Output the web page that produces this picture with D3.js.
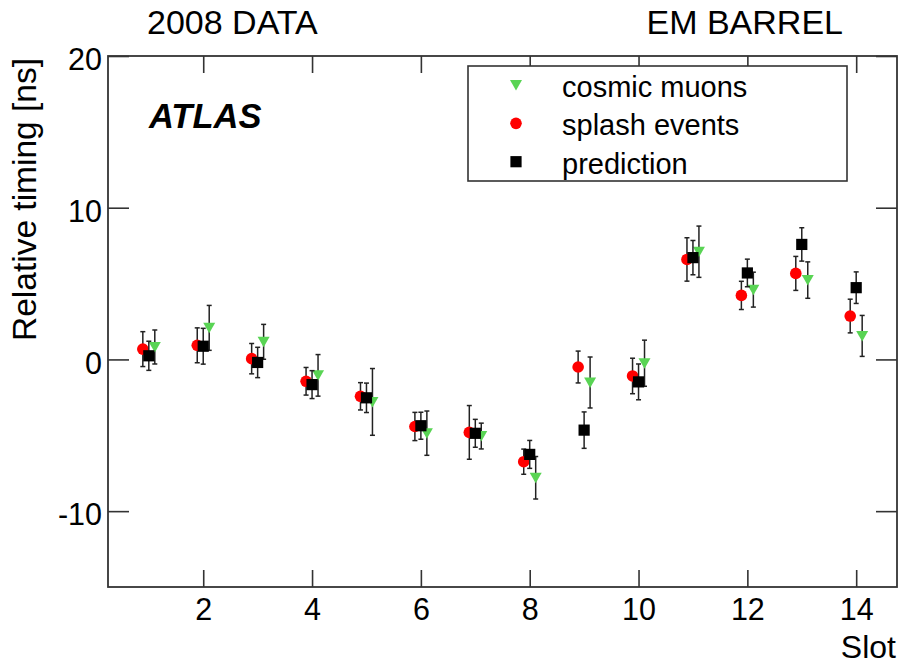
<!DOCTYPE html>
<html>
<head>
<meta charset="utf-8">
<script src="https://cdn.jsdelivr.net/npm/d3@7"></script>
<style>
  html, body { margin: 0; padding: 0; background: #ffffff; }
  svg { display: block; font-family: "Liberation Sans", Arial, Helvetica, sans-serif; }
</style>
</head>
<body>
<svg id="chart" width="899" height="664"></svg>
<script>
// Calorimeter slot timing: cosmic muons, beam splash events and prediction
const slots = [1, 2, 3, 4, 5, 6, 7, 8, 9, 10, 11, 12, 13, 14];

const cosmicValues = [0.82, 2.08, 1.16, -1.05, -2.80, -4.86, -5.05, -7.80, -1.52, -0.25, 7.10, 4.60, 5.23, 1.55];
const cosmicErrors = [1.12, 1.48, 1.15, 1.37, 2.20, 1.46, 0.85, 1.40, 1.68, 1.52, 1.69, 1.15, 1.20, 1.35];

const splashValues = [0.68, 0.93, 0.05, -1.44, -2.43, -4.42, -4.81, -6.74, -0.50, -1.09, 6.59, 4.22, 5.67, 2.86];
const splashErrors = [1.15, 1.15, 1.00, 0.91, 0.90, 0.93, 1.77, 0.83, 1.05, 1.17, 1.43, 0.93, 1.12, 1.11];

const predictionValues = [0.24, 0.87, -0.20, -1.66, -2.53, -4.37, -4.87, -6.26, -4.66, -1.48, 6.71, 5.70, 7.58, 4.73];
const predictionErrors = [0.96, 1.18, 1.00, 0.92, 0.97, 0.89, 0.92, 0.92, 1.20, 1.18, 1.13, 0.91, 1.10, 1.04];

const xTickValues = [2, 4, 6, 8, 10, 12, 14];
const yTickValues = [-10, 0, 10, 20];

const seriesNames = ["cosmic muons", "splash events", "prediction"];
const seriesColors = ["#59d454", "#ff0000", "#000000"];
const seriesShifts = [0.11, -0.11, 0];

const svg = d3.select("#chart");
const W = 899, H = 664;
const plotLeft = 108, plotRight = 897, plotTop = 56, plotBottom = 587;
const axisColor = "#333333";
const fontFamily = '"Liberation Sans", Arial, Helvetica, sans-serif';

const x = d3.scaleLinear().domain([0.25, 14.75]).range([plotLeft, plotRight]);
const y = d3.scaleLinear().domain([-15, 20]).range([plotBottom, plotTop]);

svg.append("rect").attr("width", W).attr("height", H).attr("fill", "#ffffff");

// plain hyphen-minus for negative tick labels
const tickText = d => String(d);

// axes with inward ticks on all four sides
function styleAxis(g) {
  g.select(".domain").remove();
  g.selectAll(".tick line").attr("stroke", axisColor).attr("stroke-width", 1.6);
  g.selectAll(".tick text").attr("fill", "#000").attr("font-size", 30.5).attr("font-family", fontFamily);
}

svg.append("g")
  .attr("transform", `translate(0,${plotBottom})`)
  .call(d3.axisBottom(x).tickValues(xTickValues).tickSizeInner(-17).tickSizeOuter(0).tickPadding(11).tickFormat(tickText))
  .call(styleAxis);

svg.append("g")
  .attr("transform", `translate(0,${plotTop})`)
  .call(d3.axisTop(x).tickValues(xTickValues).tickSizeInner(-17).tickSizeOuter(0).tickFormat(""))
  .call(styleAxis);

const yAxisG = svg.append("g")
  .attr("transform", `translate(${plotLeft},0)`)
  .call(d3.axisLeft(y).tickValues(yTickValues).tickSizeInner(-21).tickSizeOuter(0).tickPadding(6).tickFormat(tickText))
  .call(styleAxis);
yAxisG.selectAll(".tick text").attr("dy", "0.45em");

svg.append("g")
  .attr("transform", `translate(${plotRight},0)`)
  .call(d3.axisRight(y).tickValues(yTickValues).tickSizeInner(-21).tickSizeOuter(0).tickFormat(""))
  .call(styleAxis);

// frame
svg.append("rect")
  .attr("x", plotLeft).attr("y", plotTop)
  .attr("width", plotRight - plotLeft).attr("height", plotBottom - plotTop)
  .attr("fill", "none").attr("stroke", axisColor).attr("stroke-width", 1.8);

// marker shapes
function drawMarker(sel, kind, color) {
  if (kind === 0) {
    // downward triangle
    sel.append("path")
      .attr("d", "M-6,-5 L6,-5 L0,5.5 Z")
      .attr("fill", color);
  } else if (kind === 1) {
    sel.append("circle").attr("r", 5.8).attr("fill", color);
  } else {
    sel.append("rect").attr("x", -5.6).attr("y", -5.6).attr("width", 11.2).attr("height", 11.2).attr("fill", color);
  }
}

const seriesData = [
  cosmicValues.map((v, i) => ({ slot: slots[i], v, e: cosmicErrors[i] })),
  splashValues.map((v, i) => ({ slot: slots[i], v, e: splashErrors[i] })),
  predictionValues.map((v, i) => ({ slot: slots[i], v, e: predictionErrors[i] }))
];

const barColor = "#222222";
const cap = 2.5;
seriesData.forEach((data, s) => {
  const g = svg.append("g").attr("class", "series-" + s);
  data.forEach(d => {
    const cx = x(d.slot + seriesShifts[s]);
    const y1 = y(d.v + d.e), y2 = y(d.v - d.e);
    g.append("line").attr("x1", cx).attr("x2", cx).attr("y1", y1).attr("y2", y2)
      .attr("stroke", barColor).attr("stroke-width", 1.5);
    g.append("line").attr("x1", cx - cap).attr("x2", cx + cap).attr("y1", y1).attr("y2", y1)
      .attr("stroke", barColor).attr("stroke-width", 1.5);
    g.append("line").attr("x1", cx - cap).attr("x2", cx + cap).attr("y1", y2).attr("y2", y2)
      .attr("stroke", barColor).attr("stroke-width", 1.5);
    const m = g.append("g").attr("transform", `translate(${cx},${y(d.v)})`);
    drawMarker(m, s, seriesColors[s]);
  });
});

// titles
svg.append("text").attr("x", 147).attr("y", 34).attr("font-size", 34)
  .attr("font-family", fontFamily).attr("fill", "#000").text("2008 DATA");
svg.append("text").attr("x", 843).attr("y", 34).attr("font-size", 34).attr("text-anchor", "end")
  .attr("font-family", fontFamily).attr("fill", "#000").text("EM BARREL");
svg.append("text").attr("x", 149).attr("y", 128).attr("font-size", 34.5)
  .attr("font-weight", "bold").attr("font-style", "italic")
  .attr("font-family", fontFamily).attr("fill", "#000").text("ATLAS");

// axis titles
svg.append("text").attr("x", 896).attr("y", 658).attr("font-size", 32).attr("text-anchor", "end")
  .attr("font-family", fontFamily).attr("fill", "#000").text("Slot");
svg.append("text")
  .attr("transform", `translate(36,${58}) rotate(-90)`)
  .attr("font-size", 33.5).attr("text-anchor", "end")
  .attr("font-family", fontFamily).attr("fill", "#000").text("Relative timing [ns]");

// legend
const legend = svg.append("g");
legend.append("rect").attr("x", 468).attr("y", 66).attr("width", 379).attr("height", 115)
  .attr("fill", "#ffffff").attr("stroke", axisColor).attr("stroke-width", 1.6);
const rowY = d3.scalePoint().domain(seriesNames).range([85, 161.7]);
seriesNames.forEach((name, s) => {
  const m = legend.append("g").attr("transform", `translate(516,${rowY(name)})`);
  drawMarker(m, s, seriesColors[s]);
  legend.append("text").attr("x", 562).attr("y", rowY(name) + 12).attr("font-size", 29)
    .attr("font-family", fontFamily).attr("fill", "#000").text(name);
});
</script>
</body>
</html>
